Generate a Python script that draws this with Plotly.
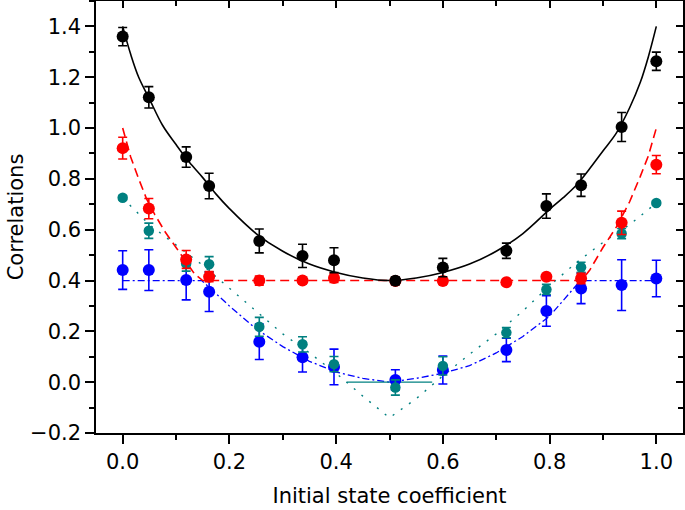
import plotly.graph_objects as go

# ---- measured data ----
x_pts = [0.0, 0.049, 0.119, 0.162, 0.256, 0.337, 0.396, 0.511, 0.600, 0.719, 0.794, 0.859, 0.935, 1.0]

black_y = [1.360, 1.121, 0.886, 0.772, 0.556, 0.497, 0.480, 0.399, 0.451, 0.517, 0.693, 0.775, 1.004, 1.263]
black_err = [0.036, 0.042, 0.040, 0.050, 0.047, 0.046, 0.049, 0.015, 0.036, 0.030, 0.048, 0.044, 0.057, 0.036]

red_y = [0.921, 0.683, 0.483, 0.415, 0.400, 0.400, 0.410, 0.398, 0.398, 0.393, 0.415, 0.408, 0.627, 0.856]
red_err = [0.043, 0.040, 0.035, 0.020, 0.018, 0.012, 0.018, 0.012, 0.012, 0.008, 0.005, 0.020, 0.046, 0.036]

teal_y = [0.726, 0.596, 0.467, 0.464, 0.218, 0.149, 0.071, -0.021, 0.064, 0.195, 0.365, 0.452, 0.585, 0.705]
teal_err = [0.008, 0.030, 0.030, 0.030, 0.037, 0.030, 0.030, 0.030, 0.036, 0.020, 0.020, 0.020, 0.020, 0.008]

blue_y = [0.441, 0.441, 0.402, 0.356, 0.159, 0.098, 0.060, 0.009, 0.048, 0.127, 0.280, 0.369, 0.382, 0.408]
blue_err = [0.076, 0.080, 0.078, 0.078, 0.070, 0.058, 0.070, 0.040, 0.055, 0.046, 0.060, 0.060, 0.100, 0.072]

# fitted curves
black_fit_x = [0.0, 0.015, 0.03, 0.05, 0.075, 0.1, 0.125, 0.15, 0.175, 0.2, 0.25, 0.3, 0.35, 0.4, 0.45, 0.5,
               0.55, 0.6, 0.65, 0.7, 0.75, 0.8, 0.825, 0.85, 0.875, 0.9, 0.925, 0.95, 0.97, 0.985, 1.0]
black_fit_y = [1.40, 1.29, 1.20, 1.115, 1.01, 0.935, 0.865, 0.805, 0.74, 0.683, 0.585, 0.515, 0.465, 0.432, 0.41, 0.40,
               0.41, 0.432, 0.465, 0.515, 0.585, 0.68, 0.725, 0.775, 0.84, 0.91, 0.98, 1.08, 1.18, 1.28, 1.40]

red_fit_x = [0.0, 0.015, 0.03, 0.045, 0.06, 0.08, 0.1, 0.12, 0.135, 0.15, 0.5,
             0.86, 0.875, 0.9, 0.925, 0.95, 0.97, 0.985, 1.0]
red_fit_y = [1.00, 0.886, 0.80, 0.72, 0.66, 0.59, 0.53, 0.47, 0.425, 0.40, 0.40,
             0.40, 0.44, 0.53, 0.61, 0.71, 0.81, 0.89, 1.00]

teal_fit_x = [0.0, 0.05, 0.1, 0.15, 0.2, 0.25, 0.3, 0.35, 0.4, 0.45, 0.5,
              0.55, 0.6, 0.65, 0.7, 0.75, 0.8, 0.85, 0.9, 0.95, 1.0]
teal_fit_y = [0.725, 0.62, 0.54, 0.46, 0.37, 0.28, 0.19, 0.115, 0.035, -0.055, -0.14,
              -0.065, 0.025, 0.11, 0.19, 0.28, 0.38, 0.47, 0.55, 0.62, 0.705]

teal_zero_x = [0.42, 0.58]
teal_zero_y = [0.0, 0.0]

blue_fit_x = [0.0, 0.148, 0.2, 0.25, 0.3, 0.35, 0.4, 0.45, 0.5,
              0.55, 0.6, 0.65, 0.7, 0.75, 0.8, 0.85, 0.858, 1.0]
blue_fit_y = [0.40, 0.40, 0.30, 0.21, 0.14, 0.082, 0.04, 0.015, 0.0,
              0.015, 0.035, 0.065, 0.115, 0.18, 0.26, 0.38, 0.40, 0.40]

x_ticks = [0.0, 0.2, 0.4, 0.6, 0.8, 1.0]
y_ticks = [-0.2, 0.0, 0.2, 0.4, 0.6, 0.8, 1.0, 1.2, 1.4]

BLACK = "#000000"
RED = "#ff0000"
TEAL = "#008080"
BLUE = "#0000ff"
FONT = "DejaVu Sans"

fig = go.Figure()

# fit lines
fig.add_trace(go.Scatter(x=blue_fit_x, y=blue_fit_y, mode="lines",
                         line=dict(color=BLUE, width=1.3, dash="7px,3px,2px,3px")))
fig.add_trace(go.Scatter(x=teal_fit_x, y=teal_fit_y, mode="lines",
                         line=dict(color=TEAL, width=1.4, dash="2px,8px")))
fig.add_trace(go.Scatter(x=teal_zero_x, y=teal_zero_y, mode="lines",
                         line=dict(color=TEAL, width=1.3)))
fig.add_trace(go.Scatter(x=red_fit_x, y=red_fit_y, mode="lines",
                         line=dict(color=RED, width=1.6, dash="9px,5px")))
fig.add_trace(go.Scatter(x=black_fit_x, y=black_fit_y, mode="lines", line_shape="spline",
                         line=dict(color=BLACK, width=1.6, smoothing=1.0)))


def pts(y, err, color, size):
    return go.Scatter(x=x_pts, y=y, mode="markers",
                      marker=dict(color=color, size=size, line=dict(width=0)),
                      error_y=dict(type="data", array=err, visible=True, color=color,
                                   thickness=1.6, width=4.5))


fig.add_trace(pts(blue_y, blue_err, BLUE, 12))
fig.add_trace(pts(teal_y, teal_err, TEAL, 10.5))
fig.add_trace(pts(red_y, red_err, RED, 12))
fig.add_trace(pts(black_y, black_err, BLACK, 12))

# invisible trace to create the mirrored top/right axes
fig.add_trace(go.Scatter(x=x_pts, y=black_y, mode="markers", marker=dict(opacity=0),
                         xaxis="x2", yaxis="y2", hoverinfo="skip"))

XR = [-0.05, 1.05]
YR = [-0.2, 1.5]

fig.update_layout(
    width=685, height=510,
    margin=dict(l=96, r=2, t=1, b=77),
    paper_bgcolor="white", plot_bgcolor="white",
    showlegend=False,
    font=dict(family=FONT, size=21, color="black"),
    xaxis=dict(range=XR, tickvals=x_ticks, tickformat=".1f", automargin=False,
               ticks="outside", ticklen=9, tickwidth=1.5, tickcolor="black",
               minor=dict(dtick=0.1, tick0=0, ticks="outside", ticklen=5, tickwidth=1.5, tickcolor="black"),
               showline=True, linewidth=1.5, linecolor="black", mirror=True,
               showgrid=False, zeroline=False,
               tickfont=dict(family=FONT, size=21),
               title=dict(text="Initial state coefficient", font=dict(family=FONT, size=21), standoff=15)),
    yaxis=dict(range=YR, tickvals=y_ticks, tickformat=".1f", automargin=False,
               ticks="outside", ticklen=9, tickwidth=1.5, tickcolor="black",
               minor=dict(dtick=0.1, tick0=0, ticks="outside", ticklen=5, tickwidth=1.5, tickcolor="black"),
               showline=True, linewidth=1.5, linecolor="black", mirror=True,
               showgrid=False, zeroline=False,
               tickfont=dict(family=FONT, size=21),
               title=dict(text="Correlations", font=dict(family=FONT, size=21), standoff=1)),
    xaxis2=dict(range=XR, overlaying="x", side="top", tickvals=x_ticks, automargin=False,
                ticks="inside", ticklen=7, tickwidth=1.5, tickcolor="black",
                minor=dict(dtick=0.1, tick0=0, ticks="inside", ticklen=5, tickwidth=1.5, tickcolor="black"),
                showticklabels=False, showline=False, showgrid=False, zeroline=False),
    yaxis2=dict(range=YR, overlaying="y", side="right", tickvals=y_ticks, automargin=False,
                ticks="inside", ticklen=7, tickwidth=1.5, tickcolor="black",
                minor=dict(dtick=0.1, tick0=0, ticks="inside", ticklen=5, tickwidth=1.5, tickcolor="black"),
                showticklabels=False, showline=False, showgrid=False, zeroline=False),
)

fig.write_html("out.html", config={"displayModeBar": False},
               post_script="document.body.style.margin='0';document.body.style.overflow='hidden';")
